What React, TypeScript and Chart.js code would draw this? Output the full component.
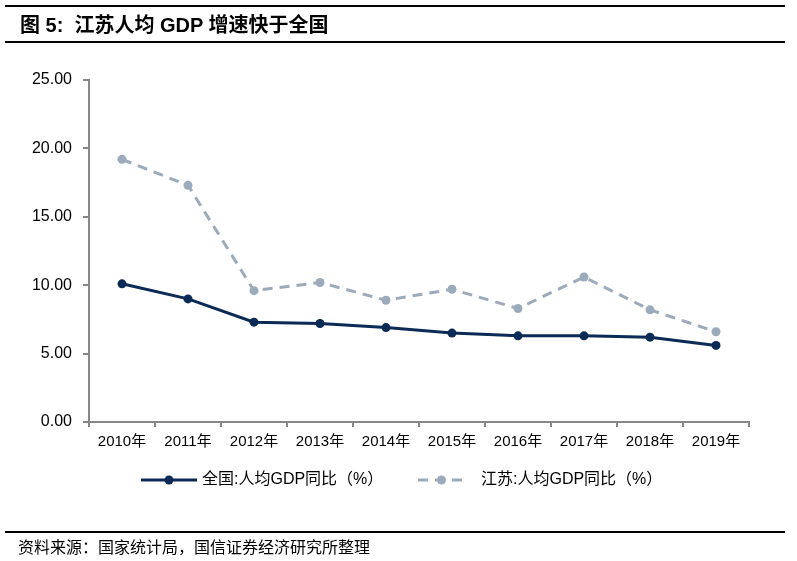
import React, { useEffect, useRef } from "react";
import { Chart, registerables } from "chart.js";

Chart.register(...registerables);

const categories = ["2010年", "2011年", "2012年", "2013年", "2014年", "2015年", "2016年", "2017年", "2018年", "2019年"];
const nationalValues = [10.1, 9.0, 7.3, 7.2, 6.9, 6.5, 6.3, 6.3, 6.2, 5.6];
const jiangsuValues = [19.2, 17.3, 9.6, 10.2, 8.9, 9.7, 8.3, 10.6, 8.2, 6.6];
const yTicks = [0, 5, 10, 15, 20, 25];
const seriesNames = ["全国:人均GDP同比（%）", "江苏:人均GDP同比（%）"];

const NAVY = "#0b2a55";
const GREY = "#9babbb";
const AXIS = "#878787";
const FONT = "'Liberation Sans', Arial, 'Noto Sans CJK SC', sans-serif";

const legendPlugin = {
  id: "customLegend",
  afterDraw(chart: any) {
    const ctx = chart.ctx;
    const ds = chart.data.datasets;
    const y = 480;
    const items = [
      { x0: 141, x1: 197, tx: 202 },
      { x0: 418, x1: 465, tx: 481 },
    ];
    ctx.save();
    items.forEach((it, i) => {
      const d = ds[i];
      ctx.strokeStyle = d.borderColor;
      ctx.lineWidth = d.borderWidth;
      ctx.setLineDash(d.borderDash || []);
      ctx.lineCap = "butt";
      ctx.beginPath();
      ctx.moveTo(it.x0, y);
      ctx.lineTo(it.x1, y);
      ctx.stroke();
      ctx.setLineDash([]);
      ctx.fillStyle = d.pointBackgroundColor;
      ctx.beginPath();
      ctx.arc((it.x0 + it.x1) / 2, y, 4.5, 0, Math.PI * 2);
      ctx.fill();
      ctx.fillStyle = "#000";
      ctx.font = "16px " + FONT;
      ctx.textBaseline = "middle";
      ctx.textAlign = "left";
      ctx.fillText(d.label, it.tx, y);
    });
    ctx.restore();
  },
};

export default function App() {
  const ref = useRef<HTMLCanvasElement | null>(null);

  useEffect(() => {
    document.body.style.margin = "0";
    if (!ref.current) return;
    const chart = new Chart(ref.current, {
      type: "line",
      data: {
        labels: categories,
        datasets: [
          {
            label: seriesNames[0],
            data: nationalValues,
            borderColor: NAVY,
            backgroundColor: NAVY,
            pointBackgroundColor: NAVY,
            pointBorderColor: NAVY,
            borderWidth: 3,
            pointRadius: 4.5,
            pointBorderWidth: 0,
            tension: 0,
          },
          {
            label: seriesNames[1],
            data: jiangsuValues,
            borderColor: GREY,
            backgroundColor: GREY,
            pointBackgroundColor: GREY,
            pointBorderColor: GREY,
            borderWidth: 3,
            borderDash: [10, 7],
            pointRadius: 4.5,
            pointBorderWidth: 0,
            tension: 0,
          },
        ],
      },
      options: {
        animation: false,
        responsive: false,
        maintainAspectRatio: false,
        layout: { padding: { left: 0, top: 80, right: 48, bottom: 99 } },
        plugins: {
          legend: { display: false },
          tooltip: { enabled: false },
          title: { display: false },
        },
        scales: {
          x: {
            type: "category",
            offset: true,
            grid: {
              display: true,
              offset: true,
              drawOnChartArea: false,
              drawTicks: true,
              tickLength: 5,
              color: AXIS,
              lineWidth: 2,
            },
            border: { display: true, color: AXIS, width: 2 },
            ticks: {
              color: "#000",
              font: { size: 15, family: FONT },
              padding: 6,
              maxRotation: 0,
              autoSkip: false,
            },
            afterFit(scale: any) {
              scale.height = 40;
            },
          },
          y: {
            min: 0,
            max: 25,
            afterBuildTicks(scale: any) {
              scale.ticks = yTicks.map((v) => ({ value: v }));
            },
            grid: {
              display: true,
              drawOnChartArea: false,
              drawTicks: true,
              tickLength: 6,
              color: AXIS,
              lineWidth: 2,
            },
            border: { display: true, color: AXIS, width: 2 },
            ticks: {
              color: "#000",
              font: { size: 16, family: FONT },
              padding: 11,
              callback: (v: any) => Number(v).toFixed(2),
            },
            afterFit(scale: any) {
              scale.width = 89;
            },
          },
        },
      },
      plugins: [legendPlugin],
    });
    return () => chart.destroy();
  }, []);

  return (
    <div style={{ position: "relative", width: 797, height: 561, background: "#fff", overflow: "hidden" }}>
      <canvas ref={ref} width={797} height={561} style={{ position: "absolute", left: 0, top: 0, width: 797, height: 561 }} />
      <div style={{ position: "absolute", left: 5, top: 5, width: 780, height: 2, background: "#000" }} />
      <div
        style={{
          position: "absolute",
          left: 20,
          top: 11,
          fontFamily: FONT,
          fontSize: 20,
          fontWeight: "bold",
          lineHeight: "28px",
          color: "#000",
          whiteSpace: "pre",
        }}
      >
        {"图 5:  江苏人均 GDP 增速快于全国"}
      </div>
      <div style={{ position: "absolute", left: 5, top: 41, width: 780, height: 2, background: "#000" }} />
      <div style={{ position: "absolute", left: 5, top: 531, width: 780, height: 2, background: "#000" }} />
      <div
        style={{
          position: "absolute",
          left: 18,
          top: 535,
          fontFamily: "'Noto Sans CJK SC', sans-serif",
          fontSize: 16,
          lineHeight: "22px",
          color: "#000",
          whiteSpace: "pre",
        }}
      >
        {"资料来源：国家统计局，国信证券经济研究所整理"}
      </div>
    </div>
  );
}
